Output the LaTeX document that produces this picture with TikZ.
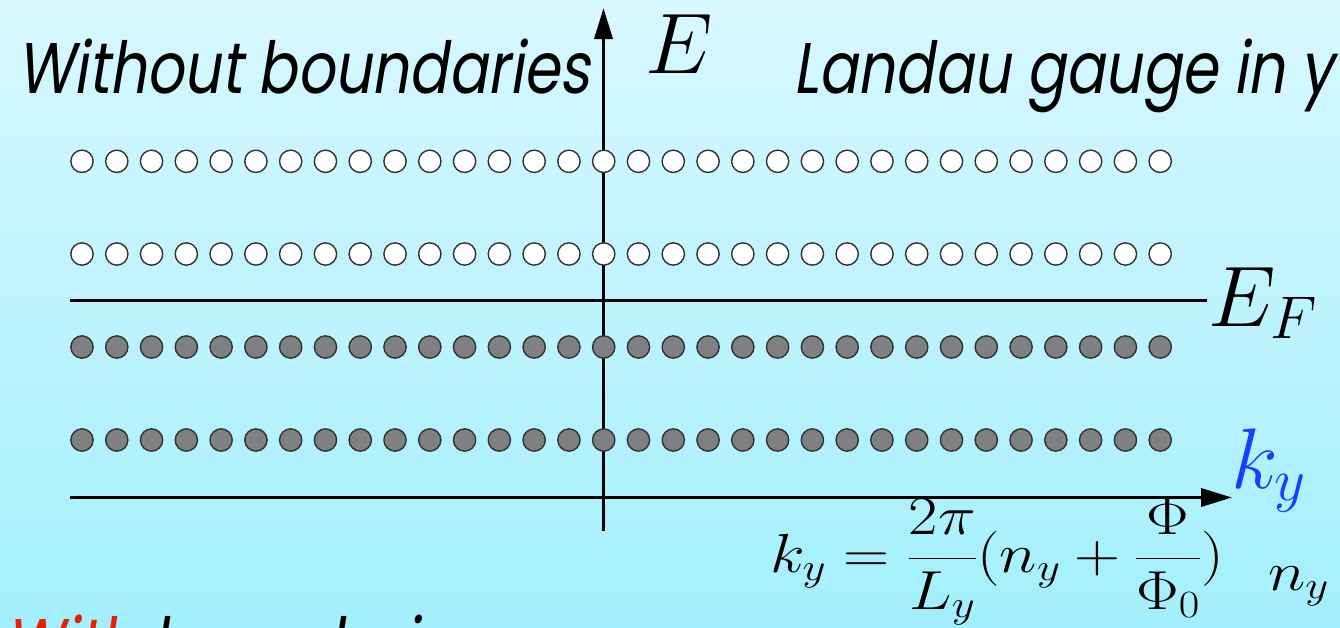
\RequirePackage{fix-cm}
\documentclass[tikz,border=0pt]{standalone}
\usepackage{fontspec}
\usepackage{amsmath}
\usepackage{graphicx}
\usetikzlibrary{arrows.meta}
\newfontfamily\futura{Poppins}[FakeSlant=0.2]
\newcommand\futtext{\futura\fontsize{72}{80}\selectfont}
\definecolor{bgtop}{RGB}{216,248,255}
\definecolor{bgbot}{RGB}{163,239,253}
\definecolor{dotgray}{RGB}{128,128,128}
\definecolor{dotline}{RGB}{50,50,50}
\definecolor{kblue}{RGB}{20,64,255}
\definecolor{wred}{RGB}{226,34,0}
\newlength\wbw
\newlength\wbh
\begin{document}
\settowidth\wbw{\futtext Without boundaries}%
\settoheight\wbh{\futtext W}%
\pgfmathsetmacro\sx{573/\wbw}%
\pgfmathsetmacro\sy{50/\wbh}%
\begin{tikzpicture}[x=1pt,y=-1pt,
  dot/.style={circle,minimum size=22.3pt,inner sep=0pt,draw=dotline,line width=1.4pt},
  axisline/.style={line width=3.6pt,-{Triangle[length=31pt,width=18pt]}},
  efline/.style={line width=3.6pt},
  lbl/.style={anchor=base west,inner sep=0pt,outer sep=0pt},
  bigmath/.style={lbl,font=\fontsize{86}{90}\selectfont},
  formula/.style={lbl,font=\fontsize{55}{60}\selectfont}]
\useasboundingbox (0,0) rectangle (1340,627);
\clip (0,0) rectangle (1340,627);
\shade[top color=bgtop,bottom color=bgbot] (0,0) rectangle (1340,627);
% axes and Fermi level
\coordinate (vbot) at (603.5,531);
\coordinate (vtop) at (603.5,8);
\coordinate (hleft) at (70,497.5);
\coordinate (hright) at (1232,497.5);
\coordinate (efl) at (70,300.5);
\coordinate (efr) at (1207,300.5);
\draw[axisline] (vbot) -- (vtop);
\draw[axisline] (hleft) -- (hright);
\draw[efline] (efl) -- (efr);
% levels
\foreach \r/\yy/\f in {1/161.3/white,2/254/white,3/347/dotgray,4/440/dotgray}{
  \foreach \i in {0,...,31}{
    \node[dot,fill=\f] (c\r-\i) at ({82+34.78*\i},\yy) {};
  }
}
% labels
\node[bigmath] (E) at (645,73) {$E$};
\node[bigmath] (EF) at (1208,326) {$E_F$};
\node[bigmath,text=kblue] (ky) at (1231,488) {$k_y$};
\node[formula] (form) at (770,572) {\scalebox{1.16}[1]{$\displaystyle k_y=\frac{2\pi}{L_y}(n_y+\frac{\Phi}{\Phi_0})$}};
\node[formula] (ny) at (1268,590) {\scalebox{1.16}[1]{$n_y$}};
\node[lbl] (wob) at (17,93) {\scalebox{\sx}[\sy]{\futtext Without boundaries}};
\node[lbl] (lg) at (793,93) {\scalebox{\sx}[\sy]{\futtext Landau gauge in y}};
\node[lbl] (wb) at (7,669) {\scalebox{\sx}[\sy]{\futtext\textcolor{wred}{With} boundaries}};
\end{tikzpicture}
\end{document}
